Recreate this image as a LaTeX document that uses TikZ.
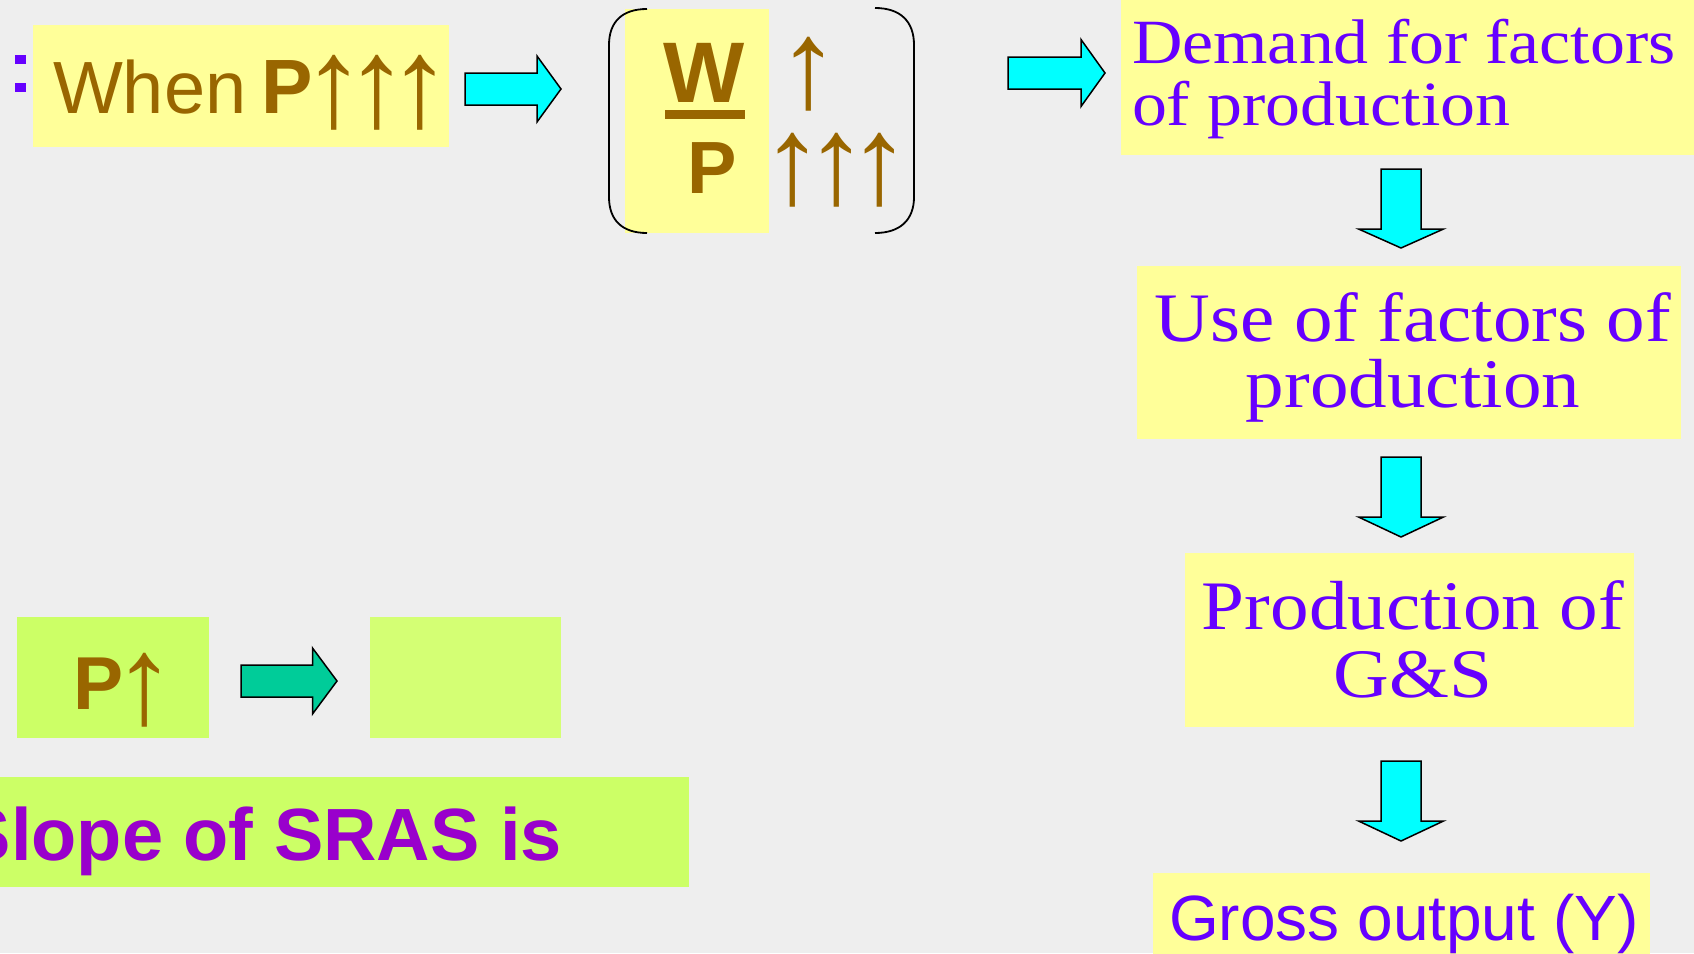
\documentclass[tikz,border=0pt]{standalone}
\usepackage{fontspec}
\usepackage{graphicx}
\setmainfont{Liberation Sans}
\newfontfamily\mincho[FakeStretch=1.11]{Liberation Serif}
\newfontfamily\arrfont{Liberation Sans}
\definecolor{bgc}{RGB}{238,238,238}
\definecolor{pyellow}{RGB}{255,255,153}
\definecolor{pgreen}{RGB}{204,255,102}
\definecolor{pgreenlt}{RGB}{212,255,116}
\definecolor{brownt}{RGB}{153,102,0}
\definecolor{violett}{RGB}{102,0,255}
\definecolor{slopec}{RGB}{153,0,204}
\definecolor{arrgreen}{RGB}{0,204,153}
\definecolor{arrcyan}{RGB}{0,255,255}
% an up arrow glyph: #1 = total height, #2 = how far its foot lies below the baseline, #3 = slot width
\newcommand\uarr[3]{\makebox[#3pt]{\raisebox{-#2pt}{\resizebox*{!}{#1pt}{\raisebox{\depth}{\arrfont ↑}}}}}
\newcommand\rblock[7]{\draw[blockarr,fill=#7] ({#1},{#4-#5}) -- ({#2},{#4-#5}) -- ({#2},{#4-#6}) -- ({#3},{#4}) -- ({#2},{#4+#6}) -- ({#2},{#4+#5}) -- ({#1},{#4+#5}) -- cycle;}
\newcommand\dblock[6]{\draw[blockarr,fill=arrcyan] ({#1-#5},{#2}) -- ({#1+#5},{#2}) -- ({#1+#5},{#3}) -- ({#1+#6},{#3}) -- ({#1},{#4}) -- ({#1-#6},{#3}) -- ({#1-#5},{#3}) -- cycle;}
\tikzset{
  box/.style={rectangle, inner sep=0pt, outer sep=0pt, anchor=north west},
  ybox/.style={box, fill=pyellow},
  gbox/.style={box, fill=pgreen},
  blockarr/.style={draw=black, line width=1.5pt, line join=miter},
  txt/.style={inner sep=0pt, outer sep=0pt},
  serifv/.style={txt, text=violett, font=\mincho\fontsize{#1}{#1}\selectfont},
  bracket/.style={draw=black, line width=1.8pt},
}
\begin{document}
\begin{tikzpicture}[x=1pt,y=-1pt]
\useasboundingbox (0,0) rectangle (1694,953);
\clip (0,0) rectangle (1694,953);
\fill[bgc] (0,0) rectangle (1694,953);

% bullets
\fill[violett] (15,55) rectangle (26,64);
\fill[violett] (15,83) rectangle (26,92);

% boxes
\node[ybox, minimum width=416.5pt, minimum height=122pt] (whenbox) at (32.5,25) {};
\node[ybox, minimum width=144pt, minimum height=224pt] (wpbox) at (625,9) {};
\node[ybox, minimum width=583pt, minimum height=160pt] (demandbox) at (1121,-5) {};
\node[ybox, minimum width=544pt, minimum height=173pt] (usebox) at (1137,266) {};
\node[ybox, minimum width=449.5pt, minimum height=174pt] (prodbox) at (1184.5,553) {};
\node[ybox, minimum width=497pt, minimum height=90pt] (grossbox) at (1153,873) {};
\node[gbox, minimum width=191.5pt, minimum height=121pt] (pbox) at (17,617) {};
\node[box, fill=pgreenlt, minimum width=191.4pt, minimum height=121pt] (emptybox) at (369.6,617) {};
\node[gbox, minimum width=709pt, minimum height=110pt] (slopebox) at (-20,777) {};

% When P up up up
\node[txt, anchor=base west, text=brownt, font=\fontsize{74}{74}\selectfont] (whent) at (53,113) {When};
\node[txt, anchor=base west, text=brownt, font=\bfseries\fontsize{77}{77}\selectfont] (whenp) at (261,113)
  {P\uarr{75}{17}{43}\uarr{75}{17}{43}\uarr{75}{17}{43}};

% W / P
\node[txt, anchor=base, text=brownt, font=\bfseries\fontsize{86}{86}\selectfont] (wtxt) at (704,102) {W};
\node[box, fill=brownt, minimum width=80pt, minimum height=9pt] (bar) at (665,110) {};
\node[txt, anchor=base, text=brownt, font=\bfseries\fontsize{74}{74}\selectfont] (ptxt) at (712.5,193) {P};
\node[txt, anchor=south, text=brownt] (ra1) at (809,111) {\uarr{74}{0}{40}};
\node[txt, anchor=south, text=brownt] (rb1) at (836,207) {\uarr{74}{0}{44}\uarr{74}{0}{43}\uarr{74}{0}{43}};
\draw[bracket] (647,9) .. controls (622,9) and (609,22) .. (609,45) -- (609,197) .. controls (609,220) and (622,233) .. (647,233);
\draw[bracket] (875,8) .. controls (900,8) and (914,21) .. (914,45) -- (914,197) .. controls (914,220) and (900,233) .. (875,233);

% right column texts
\node[serifv=63, anchor=base west] (dem1) at (1132,63) {Demand for factors};
\node[serifv=63, anchor=base west] (dem2) at (1132,125) {of production};
\node[serifv=69.5, anchor=base] (use1) at (1413,341) {Use of factors of};
\node[serifv=69.5, anchor=base] (use2) at (1413,407) {production};
\node[serifv=69.5, anchor=base] (prod1) at (1413,629) {Production of};
\node[serifv=69.5, anchor=base] (prod2) at (1413,697) {G\&S};
\node[txt, anchor=base west, text=violett, font=\fontsize{64}{64}\selectfont] (gross) at (1169,940) {Gross output (Y)};

% lower left
\node[txt, anchor=base west, text=brownt, font=\bfseries\fontsize{75}{75}\selectfont] (pup) at (73,709) {P\uarr{74}{18}{44}};
\node[txt, anchor=base east, text=slopec, font=\bfseries\fontsize{74}{74}\selectfont] (slope) at (562,860) {Slope of SRAS is};

% block arrows
\rblock{465}{537}{561}{89}{16}{33}{arrcyan}
\rblock{1008}{1081}{1105}{73}{16}{33.5}{arrcyan}
\rblock{241}{312.5}{337}{681}{16}{33}{arrgreen}
\dblock{1401}{169}{229}{248}{20}{42.5}
\dblock{1401}{457}{517}{537}{20}{42.5}
\dblock{1401}{761}{821}{841}{20}{42.5}
\end{tikzpicture}
\end{document}
